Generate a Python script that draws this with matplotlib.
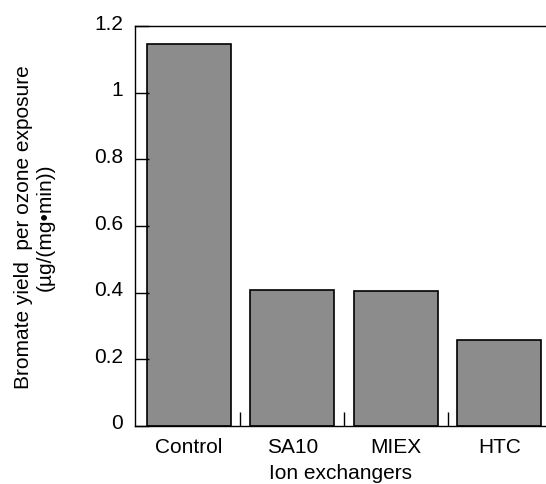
import matplotlib
matplotlib.use("Agg")
import matplotlib.pyplot as plt
import matplotlib.transforms as mtransforms

plt.rcParams['font.family'] = ['Liberation Sans', 'DejaVu Sans']

categories = ["Control", "SA10", "MIEX", "HTC"]
yields = [1.146, 0.408, 0.405, 0.258]
yticks = [0, 0.2, 0.4, 0.6, 0.8, 1, 1.2]
ytick_labels = ["0", "0.2", "0.4", "0.6", "0.8", "1", "1.2"]

fs = 15

fig = plt.figure(figsize=(5.46, 4.85), dpi=100)
ax = fig.add_axes([0.247, 0.1196, 0.753, 0.8247])

x = list(range(len(categories)))
ax.bar(x, yields, width=0.81, color="#8c8c8c", edgecolor="black", linewidth=1.2)

ax.set_xlim(-0.52, 3.45)
ax.set_ylim(0, 1.2)
ax.set_yticks(yticks)
ax.set_yticklabels(ytick_labels, fontsize=fs)
ax.tick_params(axis='y', direction='in', length=10, width=1, pad=8.5)

# labels sit a little above their ticks in the original
shift = mtransforms.ScaledTranslation(0, 5 / 100, fig.dpi_scale_trans)
for lbl in ax.get_yticklabels():
    lbl.set_transform(lbl.get_transform() + shift)

ax.set_xticks(x)
ax.set_xticklabels(categories, fontsize=fs)
ax.tick_params(axis='x', which='major', length=0, pad=8)
ax.set_xticks([0.5, 1.5, 2.5], minor=True)
ax.tick_params(axis='x', which='minor', direction='in', length=10, width=1)

for s in ["left", "bottom", "top"]:
    ax.spines[s].set_linewidth(1)
ax.spines["right"].set_visible(False)

ax.set_xlabel("Ion exchangers", fontsize=fs, labelpad=5)
ax.set_ylabel("Bromate yield  per ozone exposure\n(\u00b5g/(mg\u2022min))", fontsize=fs)
ax.yaxis.set_label_coords(-0.195, 0.5)

fig.savefig("out.png", dpi=100)
